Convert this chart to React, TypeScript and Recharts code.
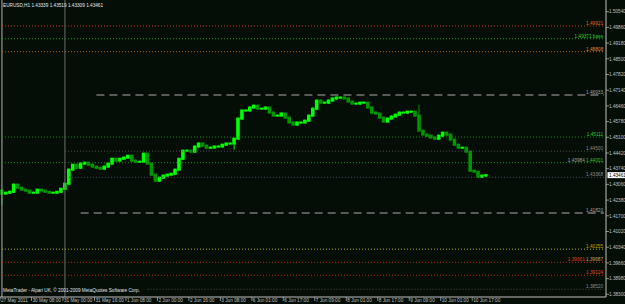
import { ComposedChart, Bar, XAxis, YAxis, ReferenceLine } from 'recharts'

// EURUSD H1, bars grouped by 2 hours, 27 May 16:00 .. 10 Jun 20:00
const firstOpen = 1.4279
const closes = [
  1.4266, 1.427, 1.4274, 1.4305, 1.4292, 1.4283, 1.4279, 1.427, 1.427, 1.4283,
  1.4279, 1.4274, 1.427, 1.427, 1.4274, 1.4287, 1.4309, 1.437, 1.4391, 1.4378,
  1.4396, 1.44, 1.4391, 1.4383, 1.4378, 1.4374, 1.4383, 1.4396, 1.4417, 1.4409,
  1.4417, 1.4422, 1.443, 1.4409, 1.4404, 1.4404, 1.4439, 1.4396, 1.4348, 1.4322,
  1.4335, 1.4344, 1.4348, 1.4352, 1.437, 1.4417, 1.4452, 1.4452, 1.4448, 1.447,
  1.4483, 1.4474, 1.4465, 1.4465, 1.447, 1.447, 1.4478, 1.4483, 1.4483, 1.4504,
  1.4591, 1.4626, 1.4626, 1.4639, 1.4647, 1.4634, 1.4634, 1.4639, 1.4617, 1.4604,
  1.4604, 1.4613, 1.4595, 1.4574, 1.4565, 1.4574, 1.4574, 1.4582, 1.4604, 1.4634,
  1.4669, 1.466, 1.466, 1.4669, 1.4678, 1.4682, 1.4682, 1.4678, 1.4665, 1.4656,
  1.4656, 1.466, 1.466, 1.4639, 1.4617, 1.4613, 1.4595, 1.4578, 1.4591, 1.46,
  1.4608, 1.4617, 1.4617, 1.4621, 1.4621, 1.4604, 1.4539, 1.4522, 1.4517, 1.4509,
  1.4504, 1.4517, 1.453, 1.4522, 1.45, 1.4478, 1.4465, 1.4465, 1.4448, 1.4365,
  1.4361, 1.4339, 1.4344, 1.4346,
]
const wicks = [
  { bar: 0, low: 1.4222 },
  { bar: 59, low: 1.4461 },
  { bar: 106, high: 1.4647 },
]
const lastPrice = 1.43461

const timeTickSlots = [0, 8, 16, 24, 32, 40, 48, 56, 64, 72, 80, 88, 96, 104, 112, 120]
const timeLabels = [
  '27 May 2011', '30 May 08:00', '31 May 00:00', '31 May 16:00', '1 Jun 08:00', '2 Jun 00:00',
  '2 Jun 16:00', '3 Jun 08:00', '6 Jun 01:00', '6 Jun 17:00', '7 Jun 09:00', '8 Jun 01:00',
  '8 Jun 17:00', '9 Jun 09:00', '10 Jun 01:00', '10 Jun 17:00',
]

const priceTicks = [
  1.383, 1.3898, 1.3966, 1.4034, 1.4102, 1.417, 1.4238, 1.4306, 1.4374, 1.4442,
  1.451, 1.4578, 1.4646, 1.4714, 1.4782, 1.485, 1.4918, 1.4986, 1.5054,
]

const levelValues = [
  1.49921, 1.49371, 1.48808, 1.46933, 1.45111, 1.445, 1.44001, 1.43368, 1.4182, 1.40255,
  1.39687, 1.39124, 1.3852,
]
const levelLabels = [
  ['1.49921'], ['1.49371 base'], ['1.48808'], ['1.46933'], ['1.45111'], ['1.44500'],
  ['1.43984', '1.44001'], ['1.43368'], ['1.41820'], ['1.40255'], ['1.39661', '1.39687'],
  ['1.39124'], ['1.38520'],
]
const levelFromSlot = [0, 0, 0, 24, 0, 16, 0, 17, 20, 0, 0, 0, 37]

const dotted = { width: 1, dash: '1 2' }
const longDash = { width: 2, dash: '8 5' }
const levelStyles = [
  { stroke: '#c83c1e', text: ['#e0642a'], ...dotted },
  { stroke: '#1e9e1e', text: ['#32c832'], ...dotted },
  { stroke: '#c8641e', text: ['#e08232'], ...dotted },
  { stroke: '#5a5a5a', text: ['#a0a0a0'], ...longDash },
  { stroke: '#1e8c1e', text: ['#32c832'], ...dotted },
  { stroke: '#555555', text: ['#8c8c8c'], ...dotted },
  { stroke: '#1e8c1e', text: ['#a0a0a0', '#32c832'], ...dotted },
  { stroke: '#4a5060', text: ['#8c8c8c'], ...dotted },
  { stroke: '#5a5a5a', text: ['#a0a0a0'], ...longDash },
  { stroke: '#b4b400', text: ['#c8a000'], ...dotted },
  { stroke: '#b43214', text: ['#e03c1e', '#c8a064'], ...dotted },
  { stroke: '#b43214', text: ['#e0461e'], ...dotted },
  { stroke: '#505050', text: ['#8c8c8c'], ...dotted },
]

const SLOTS = 154
const BG = '#040e07'
const UP = '#00ff00'
const DOWN = '#009600'
const AXIS = '#c0c0c0'
const FONT = 'Liberation Sans, Arial, sans-serif'
const FS = 4.7

const rows = Array.from({ length: SLOTS }, (_, i) => {
  if (i >= closes.length) return { idx: i, range: null }
  const open = i === 0 ? firstOpen : closes[i - 1]
  const close = closes[i]
  const w: any = wicks.find((k) => k.bar === i)
  const hi = Math.max(open, close, w?.high ?? -Infinity)
  const lo = Math.min(open, close, w?.low ?? Infinity)
  return { idx: i, open, close, hi, lo, range: [lo, hi] }
})

function Candle(props: any) {
  const { x, y, width, height, payload } = props
  if (!payload || payload.range == null) return null
  const top = height < 0 ? y + height : y
  const h = Math.abs(height)
  const span = payload.hi - payload.lo
  const k = span > 0 ? h / span : 0
  const bodyTop = top + (payload.hi - Math.max(payload.open, payload.close)) * k
  const bodyH = Math.abs(payload.open - payload.close) * k
  const cx = x + width / 2
  const color = payload.close >= payload.open ? UP : DOWN
  return (
    <g>
      <line x1={cx} x2={cx} y1={top - 1} y2={top + h + 1} stroke={color} strokeWidth={1} />
      <rect x={cx - 1.8} y={bodyTop - 1} width={3.6} height={bodyH + 2} fill={color} />
    </g>
  )
}

function PriceTick(p: any) {
  return (
    <text x={p.x} y={p.y + 1.7} fontSize={FS} fill={AXIS} fontFamily={FONT}>
      {Number(p.payload.value).toFixed(5)}
    </text>
  )
}

function TimeTick(p: any) {
  const k = timeTickSlots.indexOf(p.payload.value)
  if (k < 0) return null
  const left = p.x - 1.97
  return (
    <g>
      <line x1={left} x2={left} y1={p.y} y2={p.y + 4} stroke={AXIS} strokeWidth={0.7} />
      <text x={left + 1} y={p.y + 5.4} fontSize={FS} fill={AXIS} fontFamily={FONT}>
        {timeLabels[k]}
      </text>
    </g>
  )
}

function levelLabel(texts: string[], colors: string[]) {
  return (p: any) => {
    const vb = p.viewBox || {}
    const right = (vb.x ?? 0) + (vb.width ?? 0) - 1
    return (
      <text x={right} y={(vb.y ?? 0) - 1} textAnchor="end" fontSize={FS} fontFamily={FONT}>
        {texts.map((t, j) => (
          <tspan key={j} fill={colors[j]}>
            {(j > 0 ? ' ' : '') + t}
          </tspan>
        ))}
      </text>
    )
  }
}

function priceBox(p: any) {
  const vb = p.viewBox || {}
  const left = (vb.x ?? 0) + (vb.width ?? 0) + 1.5
  const y = vb.y ?? 0
  return (
    <g>
      <rect x={left} y={y - 3} width={18} height={6} fill="#ffffff" />
      <text x={left + 1.5} y={y + 1.7} fontSize={FS} fill="#000000" fontFamily={FONT}>
        {lastPrice.toFixed(5)}
      </text>
    </g>
  )
}

export default function App() {
  return (
    <div style={{ position: 'relative', width: 625, height: 304, background: BG }}>
      <style>{'body{margin:0;background:#040e07}'}</style>
      <ComposedChart width={625} height={304} data={rows} margin={{ top: 0, right: 0, left: 0, bottom: 0 }}>
        <XAxis
          dataKey="idx"
          type="category"
          height={7}
          ticks={timeTickSlots}
          interval={0}
          tick={<TimeTick />}
          tickLine={false}
          tickSize={0}
          tickMargin={0}
          axisLine={{ stroke: AXIS, strokeWidth: 1 }}
        />
        <YAxis
          orientation="right"
          width={19}
          type="number"
          domain={[1.38183, 1.51047]}
          allowDataOverflow
          ticks={priceTicks}
          interval={0}
          tick={<PriceTick />}
          tickSize={3}
          tickMargin={0}
          tickLine={{ stroke: AXIS, strokeWidth: 0.7 }}
          axisLine={{ stroke: AXIS, strokeWidth: 1 }}
        />
        <ReferenceLine x={0} stroke="#b0b0b0" strokeWidth={1} />
        <ReferenceLine x={16} stroke="#6e6e6e" strokeWidth={1} />
        {levelValues.map((v, i) => (
          <ReferenceLine
            key={'lv' + i}
            segment={[
              { x: levelFromSlot[i], y: v },
              { x: SLOTS - 1, y: v },
            ]}
            stroke={levelStyles[i].stroke}
            strokeWidth={levelStyles[i].width}
            strokeDasharray={levelStyles[i].dash}
            label={levelLabel(levelLabels[i], levelStyles[i].text)}
          />
        ))}
        <Bar dataKey="range" shape={<Candle />} isAnimationActive={false} />
        <ReferenceLine y={lastPrice} stroke="none" label={priceBox} />
      </ComposedChart>
      <svg
        width={625}
        height={304}
        style={{ position: 'absolute', left: 0, top: 0, pointerEvents: 'none' }}
      >
        <text x={3} y={7} fontSize={FS} fill="#e6e6e6" fontFamily={FONT}>
          EURUSD,H1  1.43339 1.43519 1.43309 1.43461
        </text>
        <text x={3} y={292} fontSize={FS} fill="#e6e6e6" fontFamily={FONT}>
          MetaTrader - Alpari UK, © 2001-2009 MetaQuotes Software Corp.
        </text>
      </svg>
    </div>
  )
}
